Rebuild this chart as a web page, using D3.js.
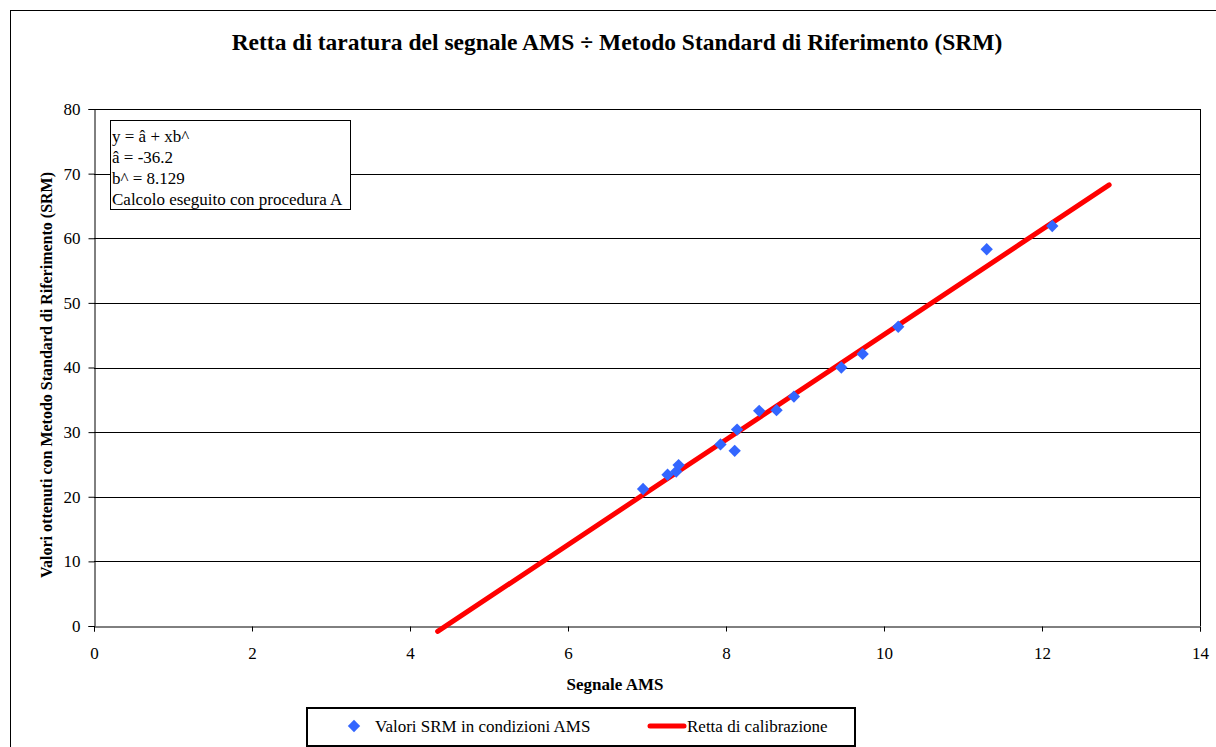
<!DOCTYPE html>
<html>
<head>
<meta charset="utf-8">
<script src="https://cdn.jsdelivr.net/npm/d3@7/dist/d3.min.js"></script>
<style>
  body { margin: 0; background: #fff; }
</style>
</head>
<body>
<div id="chart"></div>
<script>
// data
var ams = [6.95, 7.26, 7.37, 7.40, 7.93, 8.11, 8.14, 8.42, 8.64, 8.86, 9.46, 9.73, 10.18, 11.30, 12.13];
var srm = [21.2, 23.4, 23.9, 24.9, 28.1, 27.1, 30.4, 33.3, 33.4, 35.5, 40.0, 42.1, 46.3, 58.3, 61.9];
var fitA = -36.2, fitB = 8.129;
var fitRange = [4.35, 12.85];
var xTicks = [0, 2, 4, 6, 8, 10, 12, 14];
var yTicks = [0, 10, 20, 30, 40, 50, 60, 70, 80];
var boxLines = ["y = â + xb^", "â = -36.2", "b^ = 8.129", "Calcolo eseguito con procedura A"];

var W = 1216, H = 747;
var m = {l: 94, r: 16, t: 109, b: 121};
var FONT = "'Liberation Serif', 'Times New Roman', serif";

var svg = d3.select("#chart").append("svg")
    .attr("width", W).attr("height", H)
    .style("font-family", FONT);

// outer chart frame
svg.append("rect")
    .attr("x", 10.5).attr("y", 10.5)
    .attr("width", 1300).attr("height", 800)
    .attr("fill", "#fff").attr("stroke", "#000").attr("stroke-width", 1);

var x = d3.scaleLinear().domain([0, 14]).range([m.l, W - m.r]);
var y = d3.scaleLinear().domain([0, 80]).range([H - m.b, m.t]);

// gridlines
svg.append("g").selectAll("line")
    .data(yTicks.slice(1))
    .enter().append("line")
    .attr("x1", x(0)).attr("x2", x(14))
    .attr("y1", function(d){ return Math.round(y(d)) + 0.5; })
    .attr("y2", function(d){ return Math.round(y(d)) + 0.5; })
    .attr("stroke", "#000").attr("stroke-width", 1);

// right border of plot area
svg.append("line")
    .attr("x1", Math.round(x(14)) + 0.5).attr("x2", Math.round(x(14)) + 0.5)
    .attr("y1", y(80)).attr("y2", y(0))
    .attr("stroke", "#000");

var xAxis = svg.append("g")
    .attr("transform", "translate(0," + (Math.round(y(0)) + 0.5) + ")")
    .call(d3.axisBottom(x).tickValues(xTicks).tickSize(5).tickPadding(15).tickFormat(d3.format("d")));
var yAxis = svg.append("g")
    .attr("transform", "translate(" + (Math.round(x(0)) + 0.5) + ",0)")
    .call(d3.axisLeft(y).tickValues(yTicks).tickSize(6).tickPadding(8).tickFormat(d3.format("d")));
[xAxis, yAxis].forEach(function(a){
  a.attr("font-family", null);
  a.select(".domain").attr("stroke", "#000");
  a.selectAll(".tick line").attr("stroke", "#000");
  a.selectAll("text").attr("font-size", "17px").attr("fill", "#000")
    .style("font-family", FONT);
});

// clip for the fitted line (can run a touch below the axis)
svg.append("clipPath").attr("id", "clip").append("rect")
    .attr("x", x(0)).attr("y", y(80)).attr("width", x(14) - x(0)).attr("height", y(0) - y(80) + 8);

var line = d3.line()
    .x(function(d){ return x(d); })
    .y(function(d){ return y(fitA + fitB * d); });
svg.append("path")
    .datum(fitRange)
    .attr("clip-path", "url(#clip)")
    .attr("d", line)
    .attr("fill", "none").attr("stroke", "#ff0000").attr("stroke-width", 5)
    .attr("stroke-linecap", "round");

var diamond = d3.symbol().type(d3.symbolSquare).size(76);
svg.append("g").selectAll("path")
    .data(ams)
    .enter().append("path")
    .attr("d", diamond)
    .attr("transform", function(d, i){ return "translate(" + x(d) + "," + y(srm[i]) + ") rotate(45)"; })
    .attr("fill", "#3366ff");

// text box
svg.append("rect")
    .attr("x", 110.5).attr("y", 120.5).attr("width", 240).attr("height", 89)
    .attr("fill", "#fff").attr("stroke", "#000");
svg.append("g").selectAll("text")
    .data(boxLines)
    .enter().append("text")
    .attr("x", 112)
    .attr("y", function(d, i){ return 141.5 + i * 21.2; })
    .attr("font-size", "17px")
    .style("font-family", FONT)
    .text(function(d){ return d; });

// titles
svg.append("text")
    .attr("x", 617).attr("y", 50)
    .attr("text-anchor", "middle")
    .attr("font-size", "23.5px").attr("font-weight", "bold")
    .style("font-family", FONT)
    .text("Retta di taratura del segnale AMS ÷ Metodo Standard di Riferimento (SRM)");
svg.append("text")
    .attr("x", 615).attr("y", 690)
    .attr("text-anchor", "middle")
    .attr("font-size", "17px").attr("font-weight", "bold")
    .style("font-family", FONT)
    .text("Segnale AMS");
svg.append("text")
    .attr("transform", "translate(52,375) rotate(-90)")
    .attr("text-anchor", "middle")
    .attr("font-size", "16px").attr("font-weight", "bold")
    .style("font-family", FONT)
    .text("Valori ottenuti con Metodo Standard di Riferimento (SRM)");

// legend
var lg = svg.append("g");
lg.append("rect")
    .attr("x", 307).attr("y", 708).attr("width", 548).attr("height", 38)
    .attr("fill", "#fff").attr("stroke", "#000").attr("stroke-width", 2);
lg.append("path")
    .attr("d", diamond)
    .attr("transform", "translate(354,726) rotate(45)")
    .attr("fill", "#3366ff");
lg.append("text").attr("x", 375).attr("y", 732).attr("font-size", "17px")
    .style("font-family", FONT)
    .text("Valori SRM in condizioni AMS");
lg.append("line")
    .attr("x1", 650).attr("x2", 684).attr("y1", 726).attr("y2", 726)
    .attr("stroke", "#ff0000").attr("stroke-width", 5).attr("stroke-linecap", "round");
lg.append("text").attr("x", 687).attr("y", 732).attr("font-size", "17px")
    .style("font-family", FONT)
    .text("Retta di calibrazione");
</script>
</body>
</html>
